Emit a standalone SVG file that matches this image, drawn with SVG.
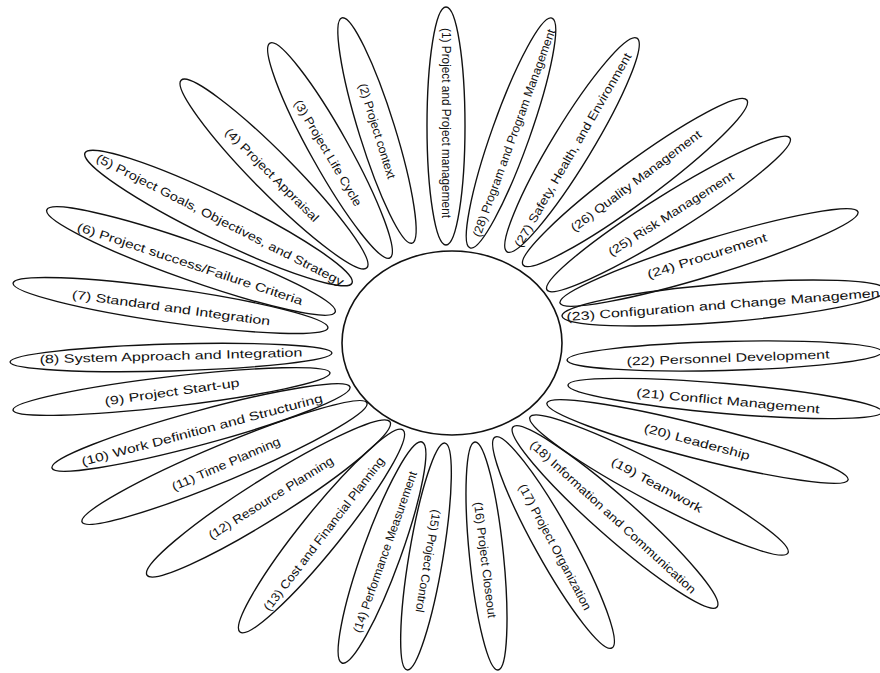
<svg xmlns="http://www.w3.org/2000/svg" width="880" height="673" viewBox="0 0 880 673">
<style>
.p{fill:none;stroke:#111;stroke-width:1.4}
.c{fill:none;stroke:#111;stroke-width:1.6}
.t{font-family:"Liberation Sans",Arial,sans-serif;font-size:12px;fill:#111;text-anchor:middle;dominant-baseline:central}
</style>
<rect width="880" height="673" fill="#fff"/>
<g id="center"><ellipse class="c" cx="452" cy="343" rx="110" ry="92"/></g>
<g id="petal-1"><ellipse class="p" rx="119" ry="19" transform="translate(446,126) rotate(90)"/><text class="t" transform="translate(446,123) rotate(90)" textLength="190" lengthAdjust="spacingAndGlyphs">(1) Project and Project management</text></g>
<g id="petal-2"><ellipse class="p" rx="118" ry="18" transform="translate(377,130.5) rotate(72.7)"/><text class="t" transform="translate(377,131) rotate(72.7)" textLength="99" lengthAdjust="spacingAndGlyphs">(2) Project context</text></g>
<g id="petal-3"><ellipse class="p" rx="123" ry="19" transform="translate(330,150.5) rotate(60.8)"/><text class="t" transform="translate(328,153) rotate(59.5)" textLength="121" lengthAdjust="spacingAndGlyphs">(3) Project Life Cycle</text></g>
<g id="petal-4"><ellipse class="p" rx="132" ry="20" transform="translate(274,174) rotate(45.3)"/><text class="t" transform="translate(272,175) rotate(45)" textLength="127" lengthAdjust="spacingAndGlyphs">(4) Project Appraisal</text></g>
<g id="petal-5"><ellipse class="p" rx="148.5" ry="21" transform="translate(218.5,218) rotate(26)"/><text class="t" transform="translate(220,220) rotate(27)" textLength="276" lengthAdjust="spacingAndGlyphs">(5) Project Goals, Objectives, and Strategy</text></g>
<g id="petal-6"><ellipse class="p" rx="153" ry="19" transform="translate(191,261) rotate(19.5)"/><text class="t" transform="translate(190,264) rotate(18.4)" textLength="237" lengthAdjust="spacingAndGlyphs">(6) Project success/Failure Criteria</text></g>
<g id="petal-7"><ellipse class="p" rx="159" ry="17" transform="translate(170.5,305.5) rotate(8.1)"/><text class="t" transform="translate(171,308) rotate(7.8)" textLength="200" lengthAdjust="spacingAndGlyphs">(7) Standard and Integration</text></g>
<g id="petal-8"><ellipse class="p" rx="161" ry="13.5" transform="translate(171,357.5) rotate(-1.6)"/><text class="t" transform="translate(171,356) rotate(-1.5)" textLength="263" lengthAdjust="spacingAndGlyphs">(8) System Approach and Integration</text></g>
<g id="petal-9"><ellipse class="p" rx="159.6" ry="15" transform="translate(171.5,391.5) rotate(-6.7)"/><text class="t" transform="translate(172,392) rotate(-8)" textLength="136" lengthAdjust="spacingAndGlyphs">(9) Project Start-up</text></g>
<g id="petal-10"><ellipse class="p" rx="154.4" ry="17" transform="translate(201,427.5) rotate(-15.2)"/><text class="t" transform="translate(202,430) rotate(-14.9)" textLength="249" lengthAdjust="spacingAndGlyphs">(10) Work Definition and Structuring</text></g>
<g id="petal-11"><ellipse class="p" rx="154.4" ry="18" transform="translate(224.5,462.5) rotate(-22.7)"/><text class="t" transform="translate(226,464) rotate(-23.5)" textLength="117" lengthAdjust="spacingAndGlyphs">(11) Time Planning</text></g>
<g id="petal-12"><ellipse class="p" rx="143.6" ry="20" transform="translate(268.5,498.5) rotate(-32.2)"/><text class="t" transform="translate(271,498) rotate(-32)" textLength="145" lengthAdjust="spacingAndGlyphs">(12) Resource Planning</text></g>
<g id="petal-13"><ellipse class="p" rx="129.8" ry="20" transform="translate(321.5,531) rotate(-51.1)"/><text class="t" transform="translate(324,534) rotate(-52.5)" textLength="190" lengthAdjust="spacingAndGlyphs">(13) Cost and Financial Planning</text></g>
<g id="petal-14"><ellipse class="p" rx="117.5" ry="19" transform="translate(382,552.5) rotate(-70.1)"/><text class="t" transform="translate(385,552) rotate(-70.5)" textLength="170" lengthAdjust="spacingAndGlyphs">(14) Performance Measurement</text></g>
<g id="petal-15"><ellipse class="p" rx="115" ry="17" transform="translate(426,556.5) rotate(99.5)"/><text class="t" transform="translate(428,561) rotate(99.4)" textLength="104" lengthAdjust="spacingAndGlyphs">(15) Project Control</text></g>
<g id="petal-16"><ellipse class="p" rx="114.6" ry="17" transform="translate(486.5,556) rotate(84.2)"/><text class="t" transform="translate(485,560) rotate(83)" textLength="117" lengthAdjust="spacingAndGlyphs">(16) Project Closeout</text></g>
<g id="petal-17"><ellipse class="p" rx="120.6" ry="19" transform="translate(553.5,542.5) rotate(61)"/><text class="t" transform="translate(555,547) rotate(62)" textLength="141" lengthAdjust="spacingAndGlyphs">(17) Project Organization</text></g>
<g id="petal-18"><ellipse class="p" rx="136" ry="20" transform="translate(615,517) rotate(41.4)"/><text class="t" transform="translate(613,517) rotate(42.5)" textLength="220" lengthAdjust="spacingAndGlyphs">(18) Information and Communication</text></g>
<g id="petal-19"><ellipse class="p" rx="145.8" ry="19" transform="translate(659,485) rotate(27.8)"/><text class="t" transform="translate(657,485) rotate(28.5)" textLength="102" lengthAdjust="spacingAndGlyphs">(19) Teamwork</text></g>
<g id="petal-20"><ellipse class="p" rx="155.4" ry="17" transform="translate(697.5,441.5) rotate(14.3)"/><text class="t" transform="translate(697,442) rotate(15)" textLength="109" lengthAdjust="spacingAndGlyphs">(20) Leadership</text></g>
<g id="petal-21"><ellipse class="p" rx="157.6" ry="15" transform="translate(725,398.5) rotate(4.9)"/><text class="t" transform="translate(728,401) rotate(5.2)" textLength="184" lengthAdjust="spacingAndGlyphs">(21) Conflict Management</text></g>
<g id="petal-22"><ellipse class="p" rx="157.5" ry="14.5" transform="translate(724.5,356) rotate(-1.5)"/><text class="t" transform="translate(728,358) rotate(-2)" textLength="203" lengthAdjust="spacingAndGlyphs">(22) Personnel Development</text></g>
<g id="petal-23"><ellipse class="p" rx="162.5" ry="19" transform="translate(724,303) rotate(-4.6)"/><text class="t" transform="translate(723,305) rotate(-4.4)" textLength="314" lengthAdjust="spacingAndGlyphs">(23) Configuration and Change Managemen</text></g>
<g id="petal-24"><ellipse class="p" rx="155.8" ry="18" transform="translate(709,257.5) rotate(-17)"/><text class="t" transform="translate(707,256) rotate(-17.6)" textLength="125" lengthAdjust="spacingAndGlyphs">(24) Procurement</text></g>
<g id="petal-25"><ellipse class="p" rx="143.3" ry="19" transform="translate(668.5,214) rotate(-32)"/><text class="t" transform="translate(671,214) rotate(-32.4)" textLength="146" lengthAdjust="spacingAndGlyphs">(25) Risk Management</text></g>
<g id="petal-26"><ellipse class="p" rx="139" ry="20" transform="translate(635,182.5) rotate(-36.4)"/><text class="t" transform="translate(636,181) rotate(-37)" textLength="160" lengthAdjust="spacingAndGlyphs">(26) Quality Management</text></g>
<g id="petal-27"><ellipse class="p" rx="125" ry="20" transform="translate(572,145) rotate(-58.7)"/><text class="t" transform="translate(573,150) rotate(-60)" textLength="222" lengthAdjust="spacingAndGlyphs">(27) Safety, Health, and Environment</text></g>
<g id="petal-28"><ellipse class="p" rx="122" ry="19" transform="translate(511,133) rotate(-70.4)"/><text class="t" transform="translate(514,133) rotate(-70)" textLength="220" lengthAdjust="spacingAndGlyphs">(28) Program and Program Management</text></g>
</svg>
